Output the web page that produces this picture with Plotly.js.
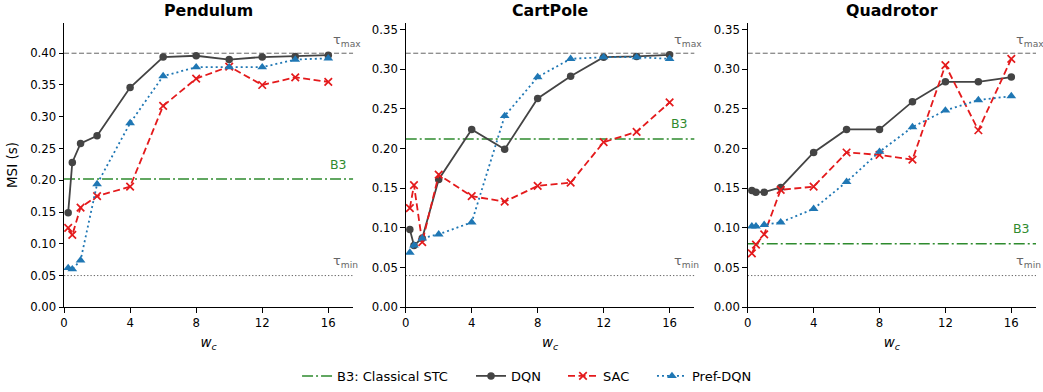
<!DOCTYPE html>
<html>
<head>
<meta charset="utf-8">
<script src="https://cdn.plot.ly/plotly-3.0.1.min.js"></script>
<style>html,body{margin:0;padding:0;background:#fff}#chart{width:1043px;height:392px}</style>
</head>
<body>
<div id="chart"></div>
<script>
// ---- data ----
const wc = [0.25, 0.5, 1, 2, 4, 6, 8, 10, 12, 14, 16];
const envNames = ['Pendulum', 'CartPole', 'Quadrotor'];

const dqnPendulum = [0.149, 0.228, 0.258, 0.270, 0.346, 0.394, 0.396, 0.390, 0.394, 0.395, 0.397];
const sacPendulum = [0.125, 0.114, 0.157, 0.175, 0.190, 0.317, 0.360, 0.379, 0.350, 0.362, 0.355];
const prefPendulum = [0.062, 0.060, 0.074, 0.194, 0.290, 0.364, 0.378, 0.378, 0.378, 0.390, 0.392];

const dqnCartPole = [0.098, 0.078, 0.087, 0.161, 0.224, 0.199, 0.263, 0.291, 0.315, 0.316, 0.318];
const sacCartPole = [0.125, 0.154, 0.082, 0.167, 0.140, 0.133, 0.153, 0.157, 0.208, 0.221, 0.258];
const prefCartPole = [0.069, 0.078, 0.087, 0.092, 0.107, 0.241, 0.290, 0.313, 0.315, 0.315, 0.313];

const dqnQuadrotor = [0.147, 0.145, 0.145, 0.151, 0.195, 0.224, 0.224, 0.259, 0.284, 0.284, 0.290];
const sacQuadrotor = [0.068, 0.079, 0.092, 0.148, 0.152, 0.195, 0.192, 0.186, 0.305, 0.223, 0.313];
const prefQuadrotor = [0.102, 0.102, 0.104, 0.107, 0.124, 0.158, 0.196, 0.227, 0.248, 0.261, 0.266];

const b3Values = [0.202, 0.212, 0.080];
const tauMaxValues = [0.40, 0.32, 0.32];
const tauMinValues = [0.05, 0.04, 0.04];
const yTopValues = [0.448, 0.3584, 0.3584];

const xTicks = [0, 4, 8, 12, 16];
const legendNames = ['B3: Classical STC', 'DQN', 'SAC', 'Pref-DQN'];

// ---- styling ----
const FONT = 'DejaVu Sans, Verdana, sans-serif';
const C_DQN = '#444444', C_SAC = '#e41a1c', C_PREF = '#1f77b4', C_B3 = '#2e8b2e', C_REF = '#666666';
const XMAX = 17.5;
const xDomains = [[0.0614, 0.3385], [0.389, 0.6657], [0.7169, 0.9933]];
const yDomain = [0.216, 0.942];
const legendX = [0.2848, 0.4516, 0.5398, 0.6251];
const legendIds = ['legend', 'legend2', 'legend3', 'legend4'];

const series = [
  [dqnPendulum, sacPendulum, prefPendulum],
  [dqnCartPole, sacCartPole, prefCartPole],
  [dqnQuadrotor, sacQuadrotor, prefQuadrotor]
];

const traces = [];
const shapes = [];
const annotations = [];
const layout = {
  width: 1043, height: 392,
  margin: {l: 0, r: 0, t: 0, b: 0},
  paper_bgcolor: '#fff', plot_bgcolor: '#fff',
  font: {family: FONT, size: 11.7, color: '#000'},
  showlegend: true,
  shapes: shapes, annotations: annotations
};
legendIds.forEach((id, k) => {
  layout[id] = {orientation: 'h', x: legendX[k], xanchor: 'left', y: 0.041, yanchor: 'middle',
    font: {family: FONT, size: 13, color: '#000'}, bgcolor: 'rgba(0,0,0,0)', borderwidth: 0};
});

for (let i = 0; i < 3; i++) {
  const sfx = i === 0 ? '' : String(i + 1);
  const xa = 'x' + sfx, ya = 'y' + sfx;
  const [dqn, sac, pref] = series[i];
  const first = i === 0;

  shapes.push({type: 'line', xref: xa + ' domain', yref: ya, x0: 0, x1: 1, y0: b3Values[i], y1: b3Values[i],
    line: {color: C_B3, width: 1.5, dash: '11px,3px,2px,3px'}, layer: 'below',
    showlegend: first, name: legendNames[0], legend: legendIds[0]});
  shapes.push({type: 'line', xref: xa + ' domain', yref: ya, x0: 0, x1: 1, y0: tauMaxValues[i], y1: tauMaxValues[i],
    line: {color: C_REF, width: 1, dash: '5px,2.5px'}, layer: 'below'});
  shapes.push({type: 'line', xref: xa + ' domain', yref: ya, x0: 0, x1: 1, y0: tauMinValues[i], y1: tauMinValues[i],
    line: {color: C_REF, width: 1, dash: '1.3px,2px'}, layer: 'below'});

  traces.push({x: wc, y: dqn, xaxis: xa, yaxis: ya, type: 'scatter', mode: 'lines+markers',
    name: legendNames[1], legend: legendIds[1], showlegend: first, cliponaxis: false,
    line: {color: C_DQN, width: 1.8}, marker: {symbol: 'circle', size: 7.5, color: C_DQN}});
  traces.push({x: wc, y: sac, xaxis: xa, yaxis: ya, type: 'scatter', mode: 'lines+markers',
    name: legendNames[2], legend: legendIds[2], showlegend: first, cliponaxis: false,
    line: {color: C_SAC, width: 1.8, dash: '7px,3.5px'},
    marker: {symbol: 'x-thin', size: 7.5, color: C_SAC, line: {color: C_SAC, width: 1.7}}});
  traces.push({x: wc, y: pref, xaxis: xa, yaxis: ya, type: 'scatter', mode: 'lines+markers',
    name: legendNames[3], legend: legendIds[3], showlegend: first, cliponaxis: false,
    line: {color: C_PREF, width: 1.8, dash: '2px,3px'}, marker: {symbol: 'triangle-up', size: 8.5, color: C_PREF}});

  layout['xaxis' + sfx] = {
    domain: xDomains[i], anchor: ya, range: [0, XMAX], tickvals: xTicks,
    showline: true, linecolor: '#000', linewidth: 1, mirror: false, showgrid: false, zeroline: false,
    ticks: 'outside', ticklen: 4.5, tickwidth: 1, tickcolor: '#000',
    tickfont: {family: FONT, size: 11.7, color: '#000'}, automargin: false,
    title: {text: '<i>w</i><sub><i>c</i></sub>', font: {family: FONT, size: 13.5, color: '#000'}, standoff: 8}
  };
  layout['yaxis' + sfx] = {
    domain: yDomain, anchor: xa, range: [0, yTopValues[i]], tick0: 0, dtick: 0.05, tickformat: '.2f',
    showline: true, linecolor: '#000', linewidth: 1, mirror: false, showgrid: false, zeroline: false,
    ticks: 'outside', ticklen: 4.5, tickwidth: 1, tickcolor: '#000',
    tickfont: {family: FONT, size: 11.7, color: '#000'}, automargin: false,
    title: first ? {text: 'MSI (s)', font: {family: FONT, size: 13.5, color: '#000'}, standoff: 9} : {text: ''}
  };

  annotations.push({xref: 'paper', yref: 'paper', x: (xDomains[i][0] + xDomains[i][1]) / 2, y: 0.974,
    xanchor: 'center', yanchor: 'middle', showarrow: false, text: '<b>' + envNames[i] + '</b>',
    font: {family: FONT, size: 15.8, color: '#000'}});
  annotations.push({xref: xa, yref: ya, x: 16.15, y: tauMaxValues[i], xanchor: 'left', yanchor: 'middle', yshift: 13,
    showarrow: false, text: 'τ<sub>max</sub>', font: {family: FONT, size: 13, color: C_REF}});
  annotations.push({xref: xa, yref: ya, x: 16.15, y: tauMinValues[i], xanchor: 'left', yanchor: 'middle', yshift: 14,
    showarrow: false, text: 'τ<sub>min</sub>', font: {family: FONT, size: 13, color: C_REF}});
  annotations.push({xref: xa, yref: ya, x: 17.25, y: b3Values[i], xanchor: 'right', yanchor: 'middle', yshift: 15,
    showarrow: false, text: 'B3', font: {family: FONT, size: 12.5, color: C_B3}});
}

Plotly.newPlot('chart', traces, layout, {staticPlot: true, displayModeBar: false});
</script>
</body>
</html>
